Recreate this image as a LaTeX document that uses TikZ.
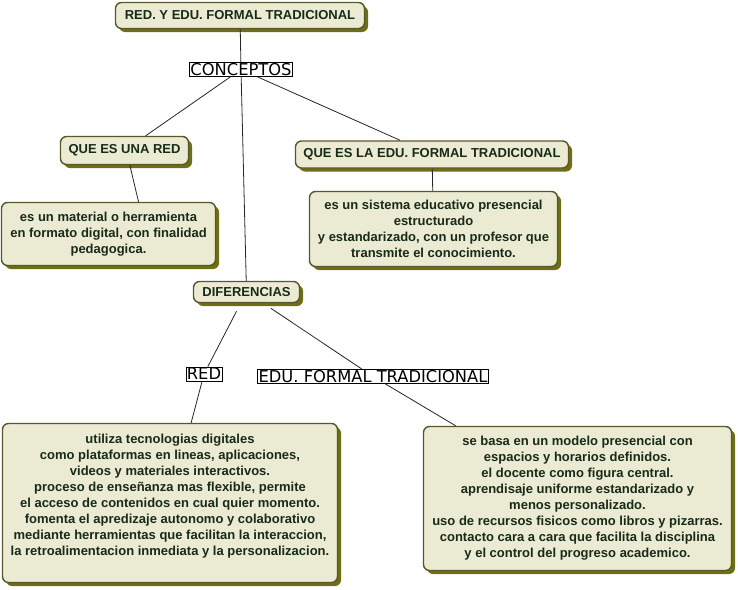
\documentclass[tikz,border=0pt]{standalone}
\usepackage{fontspec}
\usetikzlibrary{shadows}
\newfontfamily\boxfamily{Liberation Sans}
\newfontfamily\lblfamily{DejaVu Sans}
\definecolor{boxfill}{RGB}{235,235,212}
\definecolor{boxborder}{RGB}{88,88,42}
\definecolor{shadowc}{RGB}{110,110,18}
\definecolor{txt}{RGB}{24,42,24}
\tikzset{
  box/.style={draw=boxborder, line width=1.4pt, fill=boxfill, rounded corners=6pt,
    font=\boxfamily\bfseries\fontsize{13pt}{16pt}\selectfont, text=txt, align=center, inner sep=2pt,
    drop shadow={shadow xshift=3.5pt, shadow yshift=-3.5pt, fill=shadowc, opacity=1}},
  lbl/.style={draw=black, line width=0.8pt, fill=white,
    font=\lblfamily\fontsize{16.3pt}{18pt}\selectfont, inner sep=1pt,
    text height=11.9pt, text depth=0pt},
  conn/.style={draw=black!85, line width=0.8pt}
}
\begin{document}
\begin{tikzpicture}[x=1pt,y=-1pt]
\useasboundingbox (0,0) rectangle (738,589);
\node[box, minimum width=249pt, minimum height=26pt] (title) at (240,15.5) {RED. Y EDU. FORMAL TRADICIONAL};
\node[lbl] (conc) at (241,69.5) {CONCEPTOS};
\node[box, minimum width=128pt, minimum height=28pt] (qred) at (124.5,150.5) {QUE ES UNA RED};
\node[box, minimum width=273pt, minimum height=27pt] (qedu) at (432,154.5) {QUE ES LA EDU. FORMAL TRADICIONAL};
\node[box, minimum width=214pt, minimum height=63pt] (reddef) at (108.5,234)
  {es un material o herramienta\\en formato digital, con finalidad\\pedagogica.};
\node[box, minimum width=248pt, minimum height=75pt] (edudef) at (433.5,229)
  {es un sistema educativo presencial\\estructurado\\y estandarizado, con un profesor que\\transmite el conocimiento.};
\node[box, minimum width=106pt, minimum height=21pt] (dif) at (246.5,292) {DIFERENCIAS};
\node[lbl] (lred) at (204,374) {RED};
\node[lbl] (ledu) at (373,376.5) {EDU. FORMAL TRADICIONAL};
\node[box, minimum width=335pt, minimum height=159pt] (util) at (170,503)
  {utiliza tecnologias digitales\\como plataformas en lineas, aplicaciones,\\videos y materiales interactivos.\\proceso de enseñanza mas flexible, permite\\el acceso de contenidos en cual quier momento.\\fomenta el apredizaje autonomo y colaborativo\\mediante herramientas que facilitan la interaccion,\\la retroalimentacion inmediata y la personalizacion.\\\mbox{}};
\node[box, minimum width=308pt, minimum height=144pt] (sebasa) at (577.5,498.5)
  {se basa en un modelo presencial con\\espacios y horarios definidos.\\el docente como figura central.\\aprendisaje uniforme estandarizado y\\menos personalizado.\\uso de recursos fisicos como libros y pizarras.\\contacto cara a cara que facilita la disciplina\\y el control del progreso academico.};
\draw[conn] (title) -- (conc);
\draw[conn] (conc) -- (qred);
\draw[conn] (conc) -- (qedu);
\draw[conn] (conc) -- (dif);
\draw[conn] (qred.-70) -- (reddef.47);
\draw[conn] (qedu) -- (edudef);
\draw[conn, shorten <=9pt] (dif) -- (lred);
\draw[conn] (lred) -- (util);
\draw[conn, shorten <=9pt] (dif) -- (ledu);
\draw[conn] (ledu) -- (sebasa);
\end{tikzpicture}
\end{document}
